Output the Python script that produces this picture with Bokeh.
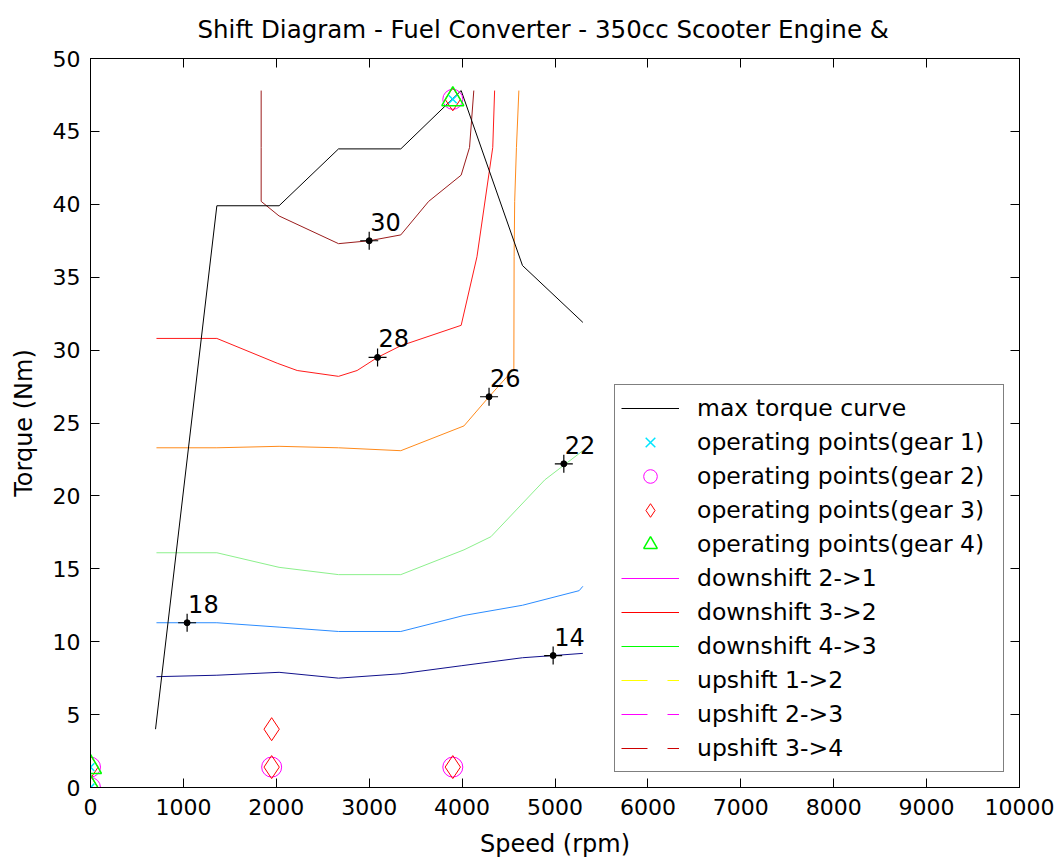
from bokeh.plotting import figure
from bokeh.models import (ColumnDataSource, Legend, LegendItem, LinearAxis,
                          FixedTicker, Range1d)
from bokeh.core.properties import value
from bokeh.embed import file_html
from bokeh.resources import INLINE

FONT = "DejaVu Sans"
NAN = float("nan")

# ---------------- data ----------------
x_tick_values = [0, 1000, 2000, 3000, 4000, 5000, 6000, 7000, 8000, 9000, 10000]
y_tick_values = [0, 5, 10, 15, 20, 25, 30, 35, 40, 45, 50]

# max torque curve
max_speed = [700, 1360, 2030, 2670, 3340, 3990, 4650, 5300]
max_torque = [4.0, 39.9, 39.9, 43.8, 43.8, 47.8, 35.8, 31.9]

# operating points per gear
g1_speed = [0, 0, 3900]
g1_torque = [0.0, 1.4, 47.2]
g2_speed = [0, 0, 1950, 3900, 3900]
g2_torque = [0.0, 1.4, 1.4, 1.4, 47.2]
g3_speed = [0, 0, 1950, 1950, 3900, 3900]
g3_torque = [0.0, 1.4, 1.4, 4.0, 1.4, 47.2]
g4_speed = [0, 0, 3900]
g4_torque = [0.0, 1.4, 47.2]

# efficiency contour lines
c14_speed = [710, 1360, 2030, 2670, 3340, 3990, 4650, 4980, 5300]
c14_torque = [7.6, 7.7, 7.9, 7.5, 7.8, 8.35, 8.9, 9.05, 9.2]
c18_speed = [710, 1360, 2030, 2670, 3340, 4020, 4650, 5260, 5300]
c18_torque = [11.3, 11.3, 11.0, 10.7, 10.7, 11.8, 12.5, 13.5, 13.8]
c22_speed = [710, 1360, 2030, 2670, 3340, 4020, 4310, 4890, 5300]
c22_torque = [16.1, 16.1, 15.1, 14.6, 14.6, 16.3, 17.2, 21.1, 23.1]
c26_speed = [710, 1360, 2030, 2670, 3340, 4020, 4290, 4557, 4560, 4566, 4585, 4611]
c26_torque = [23.3, 23.3, 23.4, 23.3, 23.1, 24.8, 26.8, 28.7, 36.4, 40.2, 43.9, 47.8]
c28_speed = [710, 1360, 2010, 2225, 2670, 2870, 3090, 3340, 3990, 4160, 4330, 4350]
c28_torque = [30.8, 30.8, 29.1, 28.6, 28.2, 28.6, 29.5, 30.3, 31.7, 36.4, 43.9, 47.8]
c30_speed = [1837, 1837, 1837, 2030, 2670, 3000, 3340, 3640, 3990, 4080, 4126]
c30_torque = [47.8, 43.9, 40.2, 39.2, 37.3, 37.5, 37.9, 40.2, 42.0, 43.9, 47.8]

contour_label_speed = [3000, 3090, 4290, 5095, 1040, 4980]
contour_label_torque = [37.5, 29.5, 26.8, 22.2, 11.3, 9.05]
contour_label_text = ["30", "28", "26", "22", "18", "14"]

# shift schedules (no visible data in the chart)
down21_speed, down21_torque = [NAN], [NAN]
down32_speed, down32_torque = [NAN], [NAN]
down43_speed, down43_torque = [NAN], [NAN]
up12_speed, up12_torque = [NAN], [NAN]
up23_speed, up23_torque = [NAN], [NAN]
up34_speed, up34_torque = [NAN], [NAN]

# ---------------- figure ----------------
p = figure(width=1061, height=860, output_backend="svg", toolbar_location=None,
           x_range=Range1d(0, 10000), y_range=Range1d(0, 50),
           min_border_left=90, min_border_right=42, min_border_top=58,
           min_border_bottom=70,
           title="Shift Diagram - Fuel Converter - 350cc Scooter Engine &")
p.background_fill_color = "white"
p.border_fill_color = "white"
p.outline_line_color = "black"
p.grid.visible = False

p.title.text_font = FONT
p.title.text_font_size = "24.5px"
p.title.text_font_style = "normal"
p.title.align = "left"
p.title.offset = 107
p.title.standoff = 26
p.title.vertical_align = "top"
p.title.text_color = "black"

for ax in [p.xaxis[0], p.yaxis[0]]:
    ax.major_label_text_font = FONT
    ax.major_label_text_font_size = "22px"
    ax.major_label_text_color = "black"
    ax.axis_label_text_font = FONT
    ax.axis_label_text_font_size = "24px"
    ax.axis_label_text_font_style = "normal"
    ax.axis_label_text_color = "black"
    ax.major_tick_in = 9
    ax.major_tick_out = 0
    ax.minor_tick_line_color = None
    ax.axis_line_color = "black"
    ax.major_tick_line_color = "black"

p.xaxis[0].ticker = FixedTicker(ticks=x_tick_values)
p.yaxis[0].ticker = FixedTicker(ticks=y_tick_values)
p.xaxis[0].axis_label = "Speed (rpm)"
p.yaxis[0].axis_label = "Torque (Nm)"
p.xaxis[0].major_label_standoff = 11
p.xaxis[0].axis_label_standoff = 12
p.yaxis[0].major_label_standoff = 10
p.yaxis[0].axis_label_standoff = 12

top_axis = LinearAxis(ticker=FixedTicker(ticks=x_tick_values))
right_axis = LinearAxis(ticker=FixedTicker(ticks=y_tick_values))
for ax in [top_axis, right_axis]:
    ax.major_label_text_font_size = "1px"
    ax.major_label_text_color = None
    ax.major_label_standoff = 0
    ax.major_tick_in = 9
    ax.major_tick_out = 0
    ax.minor_tick_line_color = None
    ax.axis_line_color = "black"
    ax.major_tick_line_color = "black"
p.add_layout(top_axis, "above")
p.add_layout(right_axis, "right")

# contour lines
contours = [
    (c14_speed, c14_torque, "#10108c"),
    (c18_speed, c18_torque, "#2b8cff"),
    (c22_speed, c22_torque, "#8cf08c"),
    (c26_speed, c26_torque, "#ff8a1a"),
    (c28_speed, c28_torque, "#ff1a1a"),
    (c30_speed, c30_torque, "#9b1c1c"),
]
for xs, ys, col in contours:
    p.line(xs, ys, line_color=col, line_width=1)

# max torque
r_max = p.line(max_speed, max_torque, line_color="black", line_width=1)

# contour labels
lab_src = ColumnDataSource(dict(x=contour_label_speed, y=contour_label_torque,
                                t=contour_label_text))
p.scatter("x", "y", source=lab_src, marker="cross", size=18,
          line_color="black", line_width=1.2)
p.scatter("x", "y", source=lab_src, marker="circle", size=6,
          fill_color="black", line_color="black")
p.text("x", "y", text="t", source=lab_src, text_font=value(FONT),
       text_font_size="24px", text_color="black", text_baseline="alphabetic",
       x_offset=1, y_offset=-19)

# operating points
r_g2 = p.scatter(g2_speed, g2_torque, marker="circle", size=20,
                 fill_color=None, line_color="#ff00ff", line_width=1)
r_g3 = p.scatter(g3_speed, g3_torque, marker="diamond", size=23,
                 fill_color=None, line_color="#ff0000", line_width=1)
r_g1 = p.scatter(g1_speed, g1_torque, marker="x", size=11,
                 line_color="#00e5ff", line_width=1.5)
r_g4 = p.scatter(g4_speed, g4_torque, marker="triangle", size=22,
                 fill_color=None, line_color="#00ff00", line_width=1.5)

# shift lines
r_d21 = p.line(down21_speed, down21_torque, line_color="#ff00ff", line_width=1)
r_d32 = p.line(down32_speed, down32_torque, line_color="#ff0000", line_width=1)
r_d43 = p.line(down43_speed, down43_torque, line_color="#00ff00", line_width=1)
r_u12 = p.line(up12_speed, up12_torque, line_color="#ffff00", line_width=1, line_dash="26 20")
r_u23 = p.line(up23_speed, up23_torque, line_color="#ff00ff", line_width=1, line_dash="26 20")
r_u34 = p.line(up34_speed, up34_torque, line_color="#cc0000", line_width=1, line_dash="26 20")

legend = Legend(items=[
    LegendItem(label="max torque curve", renderers=[r_max]),
    LegendItem(label="operating points(gear 1)", renderers=[r_g1]),
    LegendItem(label="operating points(gear 2)", renderers=[r_g2]),
    LegendItem(label="operating points(gear 3)", renderers=[r_g3]),
    LegendItem(label="operating points(gear 4)", renderers=[r_g4]),
    LegendItem(label="downshift 2->1", renderers=[r_d21]),
    LegendItem(label="downshift 3->2", renderers=[r_d32]),
    LegendItem(label="downshift 4->3", renderers=[r_d43]),
    LegendItem(label="upshift 1->2", renderers=[r_u12]),
    LegendItem(label="upshift 2->3", renderers=[r_u23]),
    LegendItem(label="upshift 3->4", renderers=[r_u34]),
], location="bottom_right")
legend.margin = 15
legend.padding = 6
legend.spacing = 0
legend.glyph_width = 58
legend.glyph_height = 34
legend.label_height = 34
legend.label_standoff = 18
legend.label_width = 300
legend.label_text_font = FONT
legend.label_text_font_size = "23.5px"
legend.label_text_color = "black"
legend.border_line_color = "black"
legend.border_line_width = 1
legend.background_fill_color = "white"
legend.background_fill_alpha = 1.0
p.add_layout(legend, "center")

open("out.html", "w").write(file_html(p, INLINE))
